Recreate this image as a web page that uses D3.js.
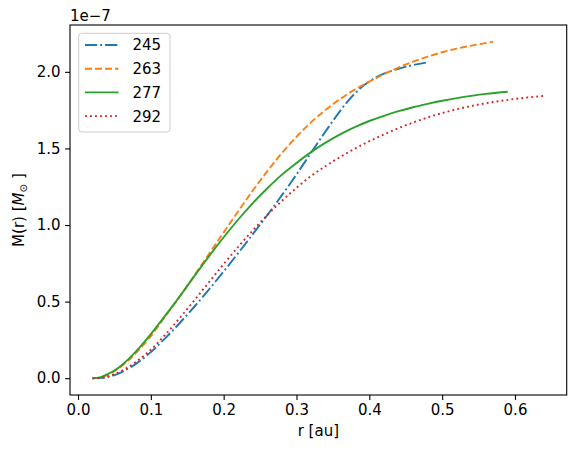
<!DOCTYPE html>
<html>
<head>
<meta charset="utf-8">
<script src="https://cdn.jsdelivr.net/npm/d3@7"></script>
<style>
  body { margin: 0; background: #fff; }
  text { font-family: "DejaVu Sans", sans-serif; }
</style>
</head>
<body>
<div id="chart"></div>
<script>
// mass profiles M(r) in units of 1e-7 Msun, one per snapshot
var labels = ["245", "263", "277", "292"];
var colors = ["#1f77b4", "#ff7f0e", "#2ca02c", "#d62728"];

var r245 = [0.02,0.03,0.04,0.05,0.06,0.07,0.08,0.09,0.10,0.12,0.14,0.16,0.18,0.20,0.22,0.24,0.26,0.28,0.30,0.32,0.34,0.36,0.37,0.38,0.39,0.40,0.41,0.42,0.44,0.46,0.48];
var m245 = [0,0.001,0.006,0.02,0.04,0.065,0.095,0.13,0.17,0.262,0.362,0.468,0.58,0.697,0.817,0.94,1.065,1.195,1.33,1.472,1.612,1.745,1.806,1.858,1.902,1.938,1.966,1.988,2.02,2.044,2.062];

var r263 = [0.02,0.03,0.04,0.05,0.06,0.07,0.08,0.09,0.10,0.12,0.14,0.16,0.18,0.20,0.22,0.24,0.26,0.28,0.30,0.32,0.34,0.36,0.38,0.40,0.42,0.44,0.46,0.48,0.50,0.52,0.54,0.57];
var m263 = [0,0.004,0.02,0.046,0.08,0.12,0.167,0.219,0.275,0.405,0.535,0.672,0.812,0.952,1.09,1.225,1.352,1.47,1.576,1.67,1.752,1.823,1.884,1.936,1.985,2.028,2.066,2.099,2.128,2.152,2.171,2.196];

var r277 = [0.02,0.03,0.04,0.05,0.06,0.07,0.08,0.09,0.10,0.12,0.14,0.16,0.18,0.20,0.22,0.24,0.26,0.28,0.30,0.32,0.34,0.36,0.38,0.40,0.42,0.44,0.46,0.48,0.50,0.52,0.54,0.56,0.59];
var m277 = [0,0.005,0.025,0.05,0.085,0.128,0.177,0.231,0.288,0.41,0.536,0.668,0.797,0.92,1.036,1.143,1.24,1.329,1.405,1.476,1.538,1.592,1.639,1.679,1.713,1.743,1.769,1.791,1.811,1.828,1.843,1.856,1.87];

var r292 = [0.02,0.03,0.04,0.05,0.06,0.07,0.08,0.09,0.10,0.12,0.14,0.16,0.18,0.20,0.22,0.24,0.26,0.28,0.30,0.32,0.34,0.36,0.38,0.40,0.42,0.44,0.46,0.48,0.50,0.52,0.54,0.56,0.58,0.60,0.62,0.64];
var m292 = [0,0.002,0.01,0.026,0.048,0.075,0.108,0.145,0.186,0.285,0.395,0.51,0.628,0.745,0.858,0.965,1.065,1.158,1.243,1.32,1.385,1.444,1.498,1.547,1.591,1.632,1.669,1.702,1.731,1.756,1.777,1.795,1.81,1.823,1.834,1.843];

var xTicks = [0.0, 0.1, 0.2, 0.3, 0.4, 0.5, 0.6];
var yTicks = [0.0, 0.5, 1.0, 1.5, 2.0];

var series = [
  {name: labels[0], r: r245, m: m245, dash: "12.2,3,1.9,3"},
  {name: labels[1], r: r263, m: m263, dash: "7,3"},
  {name: labels[2], r: r277, m: m277, dash: null},
  {name: labels[3], r: r292, m: m292, dash: "1.9,3.1"}
];
series.forEach(function(s, i) {
  s.color = colors[i];
  s.pts = s.r.map(function(d, j) { return {x: d, y: s.m[j]}; });
});

var W = 575, H = 450;
var plotL = 70, plotR = 566.7, plotT = 25, plotB = 395;

// matplotlib-style 5% padding round the data
var allX = [].concat(r245, r263, r277, r292);
var allY = [].concat(m245, m263, m277, m292);
var x0 = d3.min(allX), x1 = d3.max(allX), y0 = d3.min(allY), y1 = d3.max(allY);
var padX = (x1 - x0) * 0.05, padY = (y1 - y0) * 0.05;

var xScale = d3.scaleLinear().domain([x0 - padX, x1 + padX]).range([plotL, plotR]);
var yScale = d3.scaleLinear().domain([y0 - padY, y1 + padY]).range([plotB, plotT]);

var svg = d3.select("#chart").append("svg")
    .attr("width", W)
    .attr("height", H);

var line = d3.line()
    .x(function(d) { return xScale(d.x); })
    .y(function(d) { return yScale(d.y); })
    .curve(d3.curveMonotoneX);

svg.append("g").selectAll("path")
    .data(series)
  .enter().append("path")
    .attr("d", function(s) { return line(s.pts); })
    .attr("fill", "none")
    .attr("stroke", function(s) { return s.color; })
    .attr("stroke-width", 1.9)
    .attr("stroke-dasharray", function(s) { return s.dash; });

// axes
var xAxis = svg.append("g")
    .attr("transform", "translate(0," + plotB + ")")
    .call(d3.axisBottom(xScale).tickValues(xTicks).tickFormat(d3.format(".1f")).tickSize(4.9).tickPadding(4.5));
var yAxis = svg.append("g")
    .attr("transform", "translate(" + plotL + ",0)")
    .call(d3.axisLeft(yScale).tickValues(yTicks).tickFormat(d3.format(".1f")).tickSize(4.9).tickPadding(4.5));

[xAxis, yAxis].forEach(function(a) {
  a.select(".domain").remove();
  a.selectAll("line").attr("stroke", "#000").attr("stroke-width", 1.1);
  a.selectAll("text").attr("font-size", 15).attr("fill", "#000")
    .style("font-family", "DejaVu Sans");
});

// frame
svg.append("rect")
    .attr("x", plotL).attr("y", plotT)
    .attr("width", plotR - plotL).attr("height", plotB - plotT)
    .attr("fill", "none").attr("stroke", "#000").attr("stroke-width", 1.1);

svg.append("text")
    .attr("x", plotL).attr("y", 21)
    .attr("font-size", 15)
    .text("1e\u22127");

svg.append("text")
    .attr("x", (plotL + plotR) / 2).attr("y", 436)
    .attr("text-anchor", "middle")
    .attr("font-size", 15)
    .text("r [au]");

var yl = svg.append("text")
    .attr("transform", "translate(24," + ((plotT + plotB) / 2) + ") rotate(-90)")
    .attr("text-anchor", "middle")
    .attr("font-size", 15);
yl.append("tspan").text("M(r) [");
yl.append("tspan").attr("font-style", "italic").text("M");
yl.append("tspan").attr("font-size", 10.5).attr("dy", 3).text("\u2299");
yl.append("tspan").attr("dy", -3).text(" ]");

// legend
var lg = svg.append("g");
lg.append("rect")
    .attr("x", 78.7).attr("y", 33.3)
    .attr("width", 91.3).attr("height", 98.7)
    .attr("rx", 3).attr("ry", 3)
    .attr("fill", "#fff").attr("fill-opacity", 0.8)
    .attr("stroke", "#cccccc").attr("stroke-width", 1);

var items = lg.selectAll(".item")
    .data(series)
  .enter().append("g")
    .attr("transform", function(d, i) { return "translate(0," + (45 + i * 23.7) + ")"; });
items.append("line")
    .attr("x1", 85).attr("x2", 118.5)
    .attr("stroke", function(s) { return s.color; })
    .attr("stroke-width", 1.9)
    .attr("stroke-dasharray", function(s) { return s.dash; });
items.append("text")
    .attr("x", 132.5).attr("y", 5.4)
    .attr("font-size", 15)
    .text(function(s) { return s.name; });
</script>
</body>
</html>
